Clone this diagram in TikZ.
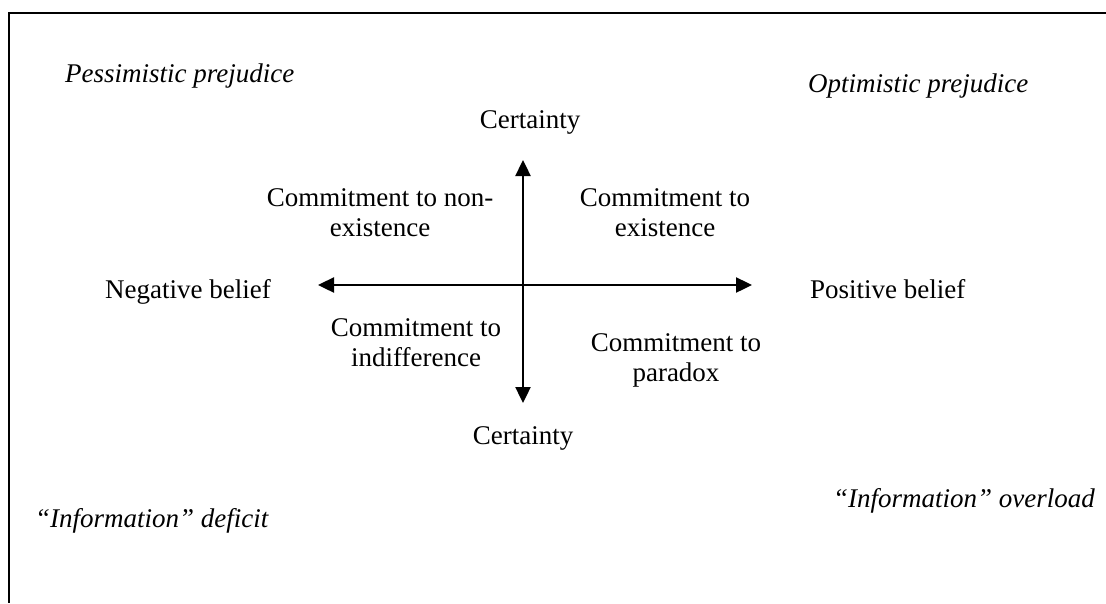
\documentclass[tikz,border=0pt]{standalone}
\usepackage{fontspec}
\setmainfont{Liberation Serif}
\usetikzlibrary{arrows.meta}
\tikzset{
  lbl/.style={inner sep=0pt, font=\fontsize{27}{30}\selectfont},
  ilbl/.style={lbl, font=\fontsize{27}{30}\selectfont\itshape},
  axis/.style={line width=2.4pt, {Triangle[length=16pt,width=15pt]}-{Triangle[length=16pt,width=15pt]}},
  frame/.style={line width=2.5pt}
}
\begin{document}
\begin{tikzpicture}[x=1pt,y=-1pt]
\useasboundingbox (0,0) rectangle (1106,603);
\coordinate (ftr) at (1106,13);
\coordinate (ftl) at (9,13);
\coordinate (fbl) at (9,603);
\draw[frame] (ftr) -- (ftl) -- (fbl);

\coordinate (L) at (318,285);
\coordinate (R) at (752,285);
\coordinate (T) at (523,160);
\coordinate (B) at (523,403);
\draw[axis] (L) -- (R);
\draw[axis] (T) -- (B);

\node[ilbl, anchor=base west] (pp) at (65,82) {Pessimistic prejudice};
\node[ilbl, anchor=base west] (op) at (808,92) {Optimistic prejudice};
\node[lbl, anchor=base] (ct) at (530,128) {Certainty};
\node[lbl, anchor=base, align=center] (cn) at (380,236) {Commitment to non-\\existence};
\node[lbl, anchor=base, align=center] (ce) at (665,236) {Commitment to\\existence};
\node[lbl, anchor=base west] (nb) at (105,298) {Negative belief};
\node[lbl, anchor=base west] (pb) at (810,298) {Positive belief};
\node[lbl, anchor=base, align=center] (ci) at (416,366) {Commitment to\\indifference};
\node[lbl, anchor=base, align=center] (cp) at (676,381) {Commitment to\\paradox};
\node[lbl, anchor=base] (cb) at (523,444) {Certainty};
\node[ilbl, anchor=base west] (id) at (35,527) {“Information” deficit};
\node[ilbl, anchor=base west] (io) at (833,507) {“Information” overload};
\end{tikzpicture}
\end{document}
